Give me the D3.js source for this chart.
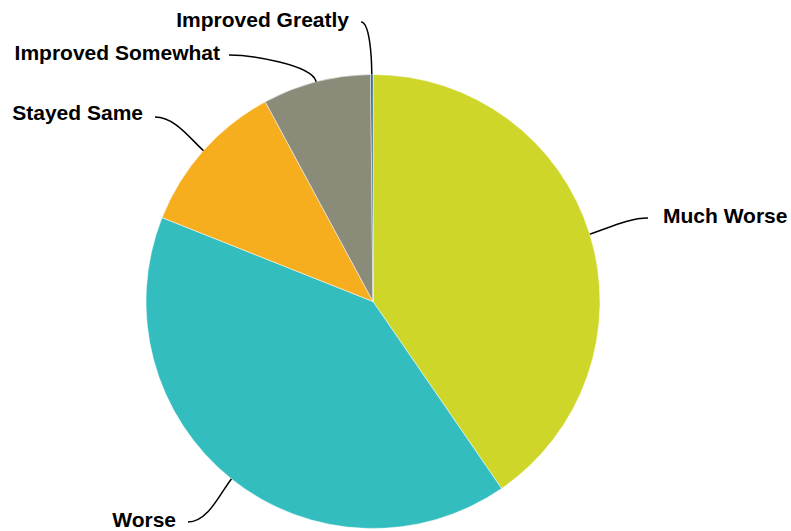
<!DOCTYPE html>
<html><head><meta charset="utf-8">
<script src="https://cdn.jsdelivr.net/npm/d3@7"></script>
<style>body{margin:0;background:#fff}svg{display:block}</style>
</head><body>
<svg id="c" width="791" height="531"></svg>
<script>
const categories = ["Much Worse", "Worse", "Stayed Same", "Improved Somewhat", "Improved Greatly"];
const values = [40.4, 40.6, 11.1, 7.7, 0.17];
const colors = ["#cfd62a", "#33bdbe", "#f6ae1f", "#8b8b7a", "#2c6584"];
// label layout: end point of connector (x,y), side, text baseline, gap
const labelLayout = [
  {ex: 648, ey: 218, side: 1, ty: 223, gap: 15},
  {ex: 188, ey: 522, side: -1, ty: 527, gap: 12},
  {ex: 155, ey: 117, side: -1, ty: 120, gap: 12},
  {ex: 229, ey: 55, side: -1, ty: 60, gap: 9},
  {ex: 361, ey: 22, side: -1, ty: 27, gap: 12}
];
const cx = 373, cy = 301.5, r = 227;
const svg = d3.select("#c");
const g = svg.append("g").attr("transform", `translate(${cx},${cy})`);
const pie = d3.pie().sort(null).value(d => d)(values);
const arc = d3.arc().innerRadius(0).outerRadius(r);
g.selectAll("path.s").data(pie).join("path").attr("class","s")
  .attr("d", arc).attr("fill", (d,i) => colors[i])
  .attr("stroke", "#fff").attr("stroke-width", 0.5);

pie.forEach((d, i) => {
  const a = (d.startAngle + d.endAngle) / 2;
  const dx = Math.sin(a), dy = -Math.cos(a);
  const p0 = [cx + r*dx, cy + r*dy];
  const p1 = [cx + (r+18)*dx, cy + (r+18)*dy];
  const L = labelLayout[i];
  const c2 = [L.ex - L.side * Math.min(20, Math.abs(L.ex - p0[0]) * 0.8), L.ey];
  const path = d3.path();
  path.moveTo(p0[0], p0[1]);
  path.bezierCurveTo(p1[0], p1[1], c2[0], c2[1], L.ex, L.ey);
  svg.append("path").attr("d", path.toString()).attr("fill","none")
    .attr("stroke","#000").attr("stroke-width",1.5);
  svg.append("text").attr("x", L.ex + L.side*L.gap).attr("y", L.ty)
    .attr("text-anchor", L.side > 0 ? "start" : "end")
    .attr("font-family","Liberation Sans, Arial, sans-serif")
    .attr("font-weight","bold").attr("font-size","21px").attr("fill","#000")
    .text(categories[i]);
});
</script>
</body></html>
